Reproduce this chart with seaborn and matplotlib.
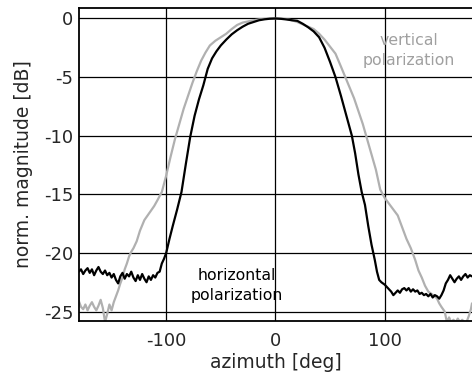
import numpy as np
import pandas as pd
import matplotlib
matplotlib.use('Agg')
import matplotlib.pyplot as plt
import seaborn as sns

# ── Data ──────────────────────────────────────────────────────────────────────
h_az = [-180, -178, -176, -174, -172, -170, -168, -166, -164, -162, -160, -158,
        -156, -154, -152, -150, -148, -146, -144, -142, -140, -138, -136, -134,
        -132, -130, -128, -126, -124, -122, -120, -118, -116, -114, -112, -110,
        -108, -106, -104, -102, -100, -97, -94, -90, -86, -82, -78, -74, -70,
        -66, -62, -58, -54, -50, -45, -40, -35, -30, -25, -20, -15, -10, -5, 0,
        5, 10, 15, 20, 25, 30, 35, 40, 45, 50, 55, 60, 65, 70, 73, 76, 79, 82,
        85, 88, 91, 93, 95, 97, 100, 102, 104, 106, 108, 110, 112, 114, 116, 118,
        120, 122, 124, 126, 128, 130, 132, 134, 136, 138, 140, 142, 144, 146,
        148, 150, 152, 154, 156, 158, 160, 162, 164, 166, 168, 170, 172, 174,
        176, 178, 180]
h_db = [-21.6, -21.4, -21.8, -21.5, -21.3, -21.7, -21.4, -21.9, -21.5, -21.2,
        -21.6, -21.8, -21.5, -21.9, -21.7, -22.1, -21.8, -22.3, -22.6, -22.0,
        -21.7, -22.2, -21.8, -22.0, -21.6, -22.1, -22.4, -21.9, -22.3, -21.8,
        -22.2, -22.5, -22.0, -22.3, -21.9, -22.1, -21.7, -21.6, -20.9, -20.5,
        -20.0, -18.8, -17.7, -16.3, -14.8, -12.4, -10.1, -8.3, -6.9, -5.7, -4.3,
        -3.4, -2.8, -2.3, -1.8, -1.35, -1.0, -0.7, -0.45, -0.3, -0.15, -0.07,
        -0.02, 0.0, -0.03, -0.08, -0.15, -0.2, -0.45, -0.75, -1.1, -1.6, -2.5,
        -3.7, -5.0, -6.6, -8.3, -10.0, -11.5, -13.3, -14.8, -15.9, -17.7, -19.3,
        -20.6, -21.6, -22.3, -22.5, -22.7, -22.9, -23.1, -23.3, -23.6, -23.4,
        -23.2, -23.4, -23.1, -23.0, -23.2, -23.0, -23.3, -23.1, -23.3, -23.2,
        -23.5, -23.4, -23.6, -23.5, -23.7, -23.5, -23.8, -23.6, -23.7, -23.9,
        -23.6, -23.2, -22.6, -22.3, -21.9, -22.2, -22.5, -22.2, -22.0, -22.3,
        -22.0, -21.8, -22.1, -21.9, -22.0]

v_az = [-180, -178, -176, -174, -172, -170, -168, -166, -164, -162, -160, -158,
        -156, -154, -152, -150, -148, -146, -144, -142, -140, -138, -136, -134,
        -132, -130, -127, -124, -120, -117, -114, -111, -108, -104, -100, -96,
        -92, -88, -84, -80, -76, -72, -68, -64, -60, -55, -50, -45, -40, -35,
        -30, -25, -20, -15, -10, -5, 0, 5, 10, 15, 20, 25, 30, 35, 40, 45, 50,
        55, 60, 64, 68, 72, 76, 80, 84, 88, 92, 96, 100, 104, 108, 112, 116,
        120, 124, 128, 131, 134, 137, 140, 143, 146, 148, 150, 152, 155, 157,
        159, 161, 163, 165, 167, 169, 171, 173, 175, 177, 179, 180]
v_db = [-24.1, -24.6, -24.8, -24.4, -24.9, -24.5, -24.2, -24.6, -24.9, -24.5,
        -24.0, -24.7, -25.9, -25.2, -24.4, -24.9, -24.2, -23.7, -23.2, -22.6,
        -22.1, -21.4, -20.9, -20.3, -19.9, -19.6, -19.0, -18.1, -17.2, -16.8,
        -16.4, -16.0, -15.5, -14.8, -13.4, -11.8, -10.3, -9.0, -7.7, -6.6, -5.5,
        -4.5, -3.6, -2.9, -2.3, -1.9, -1.6, -1.3, -0.9, -0.55, -0.35, -0.25,
        -0.15, -0.08, -0.03, 0.0, 0.0, 0.0, -0.05, -0.15, -0.3, -0.5, -0.7,
        -0.9, -1.3, -1.8, -2.4, -3.0, -4.1, -5.0, -5.9, -6.8, -7.9, -9.0, -10.3,
        -11.6, -12.9, -14.6, -15.3, -15.8, -16.3, -16.8, -17.8, -18.8, -19.6,
        -20.6, -21.5, -22.1, -22.8, -23.3, -23.5, -23.7, -23.9, -24.3, -24.6,
        -25.0, -25.9, -25.5, -25.9, -25.7, -25.9, -25.6, -25.9, -25.7, -25.9,
        -25.9, -25.4, -24.8, -24.3]

x_ticks = [-100, 0, 100]
y_ticks = [0, -5, -10, -15, -20, -25]

df = pd.concat([
    pd.DataFrame({'az': v_az, 'db': v_db, 'pol': 'vertical'}),
    pd.DataFrame({'az': h_az, 'db': h_db, 'pol': 'horizontal'}),
])

# ── Plot ──────────────────────────────────────────────────────────────────────
sns.set_style('white')
plt.rcParams['font.family'] = ['DejaVu Sans']
plt.rcParams['axes.unicode_minus'] = False

fig = plt.figure(figsize=(4.72, 3.78), dpi=100)
ax = fig.add_axes([0.167, 0.151, 0.833, 0.828])

sns.lineplot(data=df, x='az', y='db', hue='pol', sort=False, estimator=None,
             palette={'vertical': '#b0b0b0', 'horizontal': 'black'},
             linewidth=1.6, legend=False, ax=ax)

ax.set_xlim(-180, 180)
ax.set_ylim(-25.8, 0.9)
ax.set_xticks(x_ticks)
ax.set_yticks(y_ticks)
ax.grid(True, color='black', linewidth=0.9)
ax.set_axisbelow(True)
ax.tick_params(length=0, labelsize=13)
ax.tick_params(axis='x', pad=8)
ax.tick_params(axis='y', pad=4)
for s in ['left', 'bottom', 'top']:
    ax.spines[s].set_color('black')
    ax.spines[s].set_linewidth(1.3)
ax.spines['right'].set_visible(False)

ax.set_xlabel('azimuth [deg]', fontsize=13.5, labelpad=2)
ax.set_ylabel('norm. magnitude [dB]', fontsize=13.5, labelpad=8)

ax.text(122, -2.75, 'vertical\npolarization', color='#a0a0a0', fontsize=11.3,
        ha='center', va='center', linespacing=1.4)
ax.text(-35, -22.8, 'horizontal\npolarization', color='black', fontsize=11.3,
        ha='center', va='center', linespacing=1.4)

plt.savefig('out.png', dpi=100)
